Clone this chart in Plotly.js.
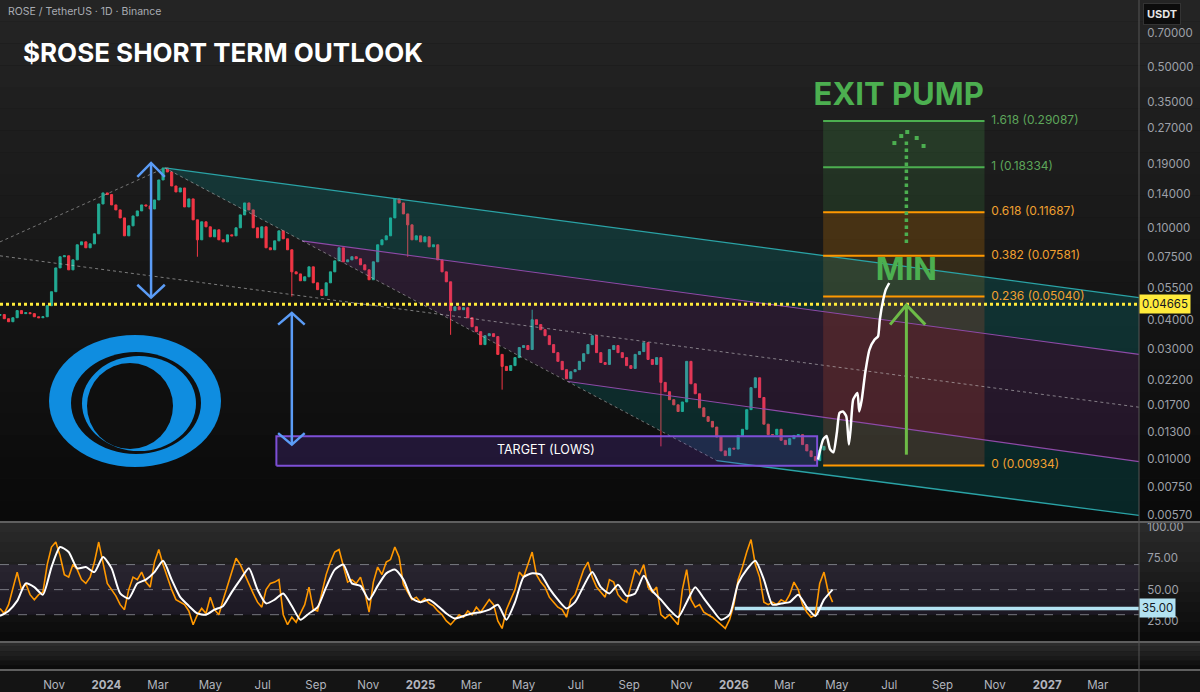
<!DOCTYPE html>
<html><head><meta charset="utf-8">
<script src="https://cdn.plot.ly/plotly-3.0.1.min.js"></script>
<style>html,body{margin:0;padding:0;background:#141414;}#chart{width:1200px;height:692px;}</style>
</head><body><div id="chart"></div>
<script>
// ================= DATA =================
// Price (ROSE/USDT), one candle every 5 days, open = previous close
const candleStart = '2023-08-30';
const candleStepDays = 5;
const firstOpen = 0.0418;
const closes = [
0.0421,0.0404,0.0392,0.0408,0.0438,0.0425,0.0429,0.0425,0.0412,0.0408,
0.0412,0.0460,0.0529,0.0671,0.0750,0.0757,0.0658,0.0727,0.0845,0.0870,
0.0820,0.0853,0.0943,0.1270,0.1418,0.1395,0.1258,0.1197,0.1105,0.0924,
0.1021,0.1127,0.1185,0.1258,0.1245,0.1208,0.1322,0.1614,0.1819,0.1748,
0.1520,0.1432,0.1490,0.1233,0.1336,0.1084,0.0888,0.1063,0.1011,0.0915,
0.0981,0.0888,0.0870,0.0933,0.0924,0.1001,0.1139,0.1283,0.1197,0.1001,
0.0906,0.1011,0.0820,0.0804,0.0879,0.0971,0.0897,0.0804,0.0645,0.0632,
0.0590,0.0614,0.0678,0.0578,0.0540,0.0509,0.0578,0.0645,0.0720,0.0820,
0.0713,0.0727,0.0750,0.0735,0.0692,0.0658,0.0596,0.0713,0.0845,0.0888,
0.0924,0.1105,0.1336,0.1283,0.1150,0.1031,0.0888,0.0924,0.0870,0.0915,
0.0828,0.0845,0.0727,0.0645,0.0584,0.0438,0.0455,0.0442,0.0451,0.0408,
0.0373,0.0355,0.0312,0.0341,0.0348,0.0338,0.0283,0.0251,0.0241,0.0253,
0.0274,0.0303,0.0309,0.0297,0.0400,0.0381,0.0362,0.0341,0.0312,0.0288,
0.0264,0.0243,0.0222,0.0238,0.0243,0.0264,0.0285,0.0312,0.0341,0.0288,
0.0261,0.0256,0.0297,0.0309,0.0288,0.0274,0.0253,0.0246,0.0283,0.0291,
0.0318,0.0269,0.0256,0.0274,0.0214,0.0195,0.0180,0.0171,0.0160,0.0176,
0.0264,0.0211,0.0191,0.0166,0.0152,0.0145,0.0137,0.0124,0.0108,0.0103,
0.0111,0.0110,0.0126,0.0134,0.0163,0.0203,0.0224,0.0184,0.0141,0.0127,
0.0127,0.0134,0.0120,0.0115,0.0122,0.0126,0.0127,0.0115,0.0108,0.0102,
0.0098,0.0109,0.0113];
const wickLowIndex  = [46, 68, 95, 105, 117, 154];
const wickLowValue  = [0.0750, 0.0504, 0.0750, 0.0344, 0.0199, 0.0113];
const wickHighIndex = [124];
const wickHighValue = [0.0442];

// RSI (5-day grid) and its moving average (10-day grid)
const rsiStepDays = 5;
const rsiValues = [
35,31,38,52,64,50,55,46,42,46, 48,70,84,88,77,62,60,70,66,58,
55,60,72,88,70,55,50,45,38,34, 50,60,58,64,56,52,72,82,70,60,
50,42,40,38,33,22,30,35,31,44, 34,30,42,53,64,75,70,62,55,47,
40,36,50,55,56,58,30,22,28,24, 31,38,52,34,33,48,62,72,80,82,
70,56,58,55,60,48,32,56,68,62, 72,74,84,76,54,48,42,44,40,43,
39,37,33,30,25,22,26,30,28,33, 30,36,32,37,42,38,25,19,34,42,
50,64,60,70,80,62,56,52,44,40, 36,34,28,42,46,56,66,72,60,52,
48,44,58,56,46,42,40,54,66,62, 70,52,48,52,30,27,30,26,22,50,
66,42,36,38,32,30,28,25,22,19, 26,38,58,68,80,90,70,60,40,38,
40,38,42,40,46,56,50,38,32,28, 30,55,64,48,40];
const rsiMaStepDays = 10;
const rsiMa = [
29,33,41,55,52,46,68,84,80,67, 68,64,76,67,47,43,55,58,64,73,
58,44,37,31,30,34,37,48,58,67, 50,39,42,47,37,26,31,36,52,66,
70,55,53,42,53,63,66,58,43,40, 42,37,31,27,29,31,32,34,38,26,
40,60,63,62,51,42,35,40,53,64, 52,47,54,45,47,61,49,42,34,28,
40,52,43,34,26,30,55,66,73,58, 38,39,40,46,36,29,42,50];
const rsiGuideLevels = [70, 50, 30];
const rsiAlertLevel = 35;
const rsiAlertStart = '2026-01-02';

// Axes
const xStart = '2023-08-30', xEnd = '2027-04-18';
const priceTicks = [0.7,0.5,0.35,0.27,0.19,0.14,0.1,0.075,0.055,0.04,0.03,0.022,0.017,0.013,0.01,0.0075,0.0057];
const rsiTicks = [25, 50, 75, 100];
const monthTickDates = ['2023-09-01','2023-11-01','2024-01-01','2024-03-01','2024-05-01','2024-07-01','2024-09-01','2024-11-01',
 '2025-01-01','2025-03-01','2025-05-01','2025-07-01','2025-09-01','2025-11-01','2026-01-01','2026-03-01','2026-05-01',
 '2026-07-01','2026-09-01','2026-11-01','2027-01-01','2027-03-01'];
const monthTickLabels = ['Sep','Nov','2024','Mar','May','Jul','Sep','Nov','2025','Mar','May','Jul','Sep','Nov','2026','Mar','May','Jul','Sep','Nov','2027','Mar'];

// Horizontal price line
const lastPriceLevel = 0.04665;

// Pitchfork drawing
const pfUpperX  = ['2024-03-09','2027-04-18'], pfUpperY  = [0.182, 0.0499];
const pfMidUpX  = ['2024-08-16','2027-04-18'], pfMidUpY  = [0.0879, 0.0283];
const pfMedianX = ['2023-08-30','2027-04-18'], pfMedianY = [0.0757, 0.0167];
const pfMidLowX = ['2025-06-22','2027-04-18'], pfMidLowY = [0.0216, 0.0097];
const pfLowerX  = ['2025-12-12','2027-04-18'], pfLowerY  = [0.0098, 0.00567];
const pfHandleX = ['2023-08-30','2024-03-09','2025-12-12'], pfHandleY = [0.0870, 0.182, 0.0098];

// Target box
const targetX = ['2024-07-17','2026-04-08'], targetY = [0.0093, 0.0125];
const targetLabelX = '2025-05-27', targetLabelY = 0.01082, targetLabel = 'TARGET (LOWS)';

// Fibonacci extension
const fibLevels = ['1.618','1','0.618','0.382','0.236','0'];
const fibPrices = [0.29087, 0.18334, 0.11687, 0.07581, 0.05040, 0.00934];
const fibStart = '2026-04-15', fibEnd = '2026-10-20', fibLabelX = '2026-10-28';

// Arrows
const blueArrow1X = ['2024-02-22','2024-02-22'], blueArrow1Y = [0.1912, 0.0499];
const blueHead1X = ['2024-02-06','2024-02-22','2024-03-09'], blueHead1TopY = [0.1663,0.1912,0.1663], blueHead1BotY = [0.0567,0.0499,0.0567];
const blueArrow2X = ['2024-08-04','2024-08-04'], blueArrow2Y = [0.0428, 0.0115];
const blueHead2X = ['2024-07-19','2024-08-04','2024-08-19'], blueHead2TopY = [0.0381,0.0428,0.0381], blueHead2BotY = [0.0129,0.0115,0.0129];
const greenArrowX = ['2026-07-21','2026-07-21'], greenArrowY = [0.0104, 0.0463];
const greenHeadX = ['2026-07-02','2026-07-21','2026-08-12'], greenHeadY = [0.0381, 0.0463, 0.0381];
const dotArrowX = ['2026-07-21','2026-07-21'], dotArrowY = [0.0860, 0.245];
const dotHeadX = ['2026-07-07','2026-07-15','2026-07-22','2026-08-02','2026-08-10'], dotHeadY = [0.2333,0.2502,0.2604,0.2453,0.2265];

// Hand-drawn projection
const projX = ['2026-04-09','2026-04-15','2026-04-19','2026-04-23','2026-04-27','2026-05-01','2026-05-04','2026-05-08','2026-05-12','2026-05-15','2026-05-17','2026-05-20','2026-05-25','2026-05-27','2026-05-30','2026-06-03','2026-06-08','2026-06-14','2026-06-18','2026-06-20','2026-06-24','2026-06-27','2026-07-01'];
const projY = [0.0099,0.0121,0.01253,0.0110,0.01064,0.01297,0.01577,0.01602,0.01525,0.0115,0.0134,0.0180,0.01926,0.01602,0.0180,0.02351,0.0297,0.0328,0.03386,0.0400,0.0488,0.0540,0.0577];

// Big labels
const exitLabelX = '2026-07-12', exitLabelY = 0.3675;
const minLabelX = '2026-07-21', minLabelY = 0.0640;

// ================= BUILD =================
function addDays(s, n){const d=new Date(s+'T00:00:00Z');d.setUTCDate(d.getUTCDate()+n);return d.toISOString().slice(0,10);}
const candleDates = closes.map((_,i)=>addDays(candleStart, i*candleStepDays));
const opens = closes.map((c,i)=> i===0 ? firstOpen : closes[i-1]);
const highs = closes.map((c,i)=> Math.max(c, opens[i]));
const lows  = closes.map((c,i)=> Math.min(c, opens[i]));
wickLowIndex.forEach((k,j)=>{lows[k]=wickLowValue[j];});
wickHighIndex.forEach((k,j)=>{highs[k]=wickHighValue[j];});
const rsiDates = rsiValues.map((_,i)=>addDays(candleStart, i*rsiStepDays));
const maDates = rsiMa.map((_,i)=>addDays(candleStart, i*rsiMaStepDays));

const W=1200,H=692,PR=1139,PB=670;
const px = v=>v/PR, py = v=>1-v/PB;

const FONT = 'Inter, Roboto, "Liberation Sans", sans-serif';
const traces = [];
function poly(x,y,fill,extra){traces.push(Object.assign({type:'scatter',mode:'lines',x:x,y:y,fill:'toself',fillcolor:fill,line:{width:0},hoverinfo:'skip',xaxis:'x',yaxis:'y'},extra||{}));}
function line(x,y,color,width,dash,yaxis,extra){traces.push(Object.assign({type:'scatter',mode:'lines',x:x,y:y,line:{color:color,width:width,dash:dash||'solid'},hoverinfo:'skip',xaxis:'x',yaxis:yaxis||'y'},extra||{}));}

// Pitchfork fills
poly([pfUpperX[0],pfUpperX[1],pfMidUpX[1],pfMidUpX[0],pfUpperX[0]],[pfUpperY[0],pfUpperY[1],pfMidUpY[1],pfMidUpY[0],pfUpperY[0]],'rgba(0,165,165,0.20)');
poly([pfMidUpX[0],pfMidUpX[1],pfMidLowX[1],pfMidLowX[0],pfMidUpX[0]],[pfMidUpY[0],pfMidUpY[1],pfMidLowY[1],pfMidLowY[0],pfMidUpY[0]],'rgba(150,60,180,0.16)');
poly([pfMidLowX[0],pfMidLowX[1],pfLowerX[1],pfLowerX[0],pfMidLowX[0]],[pfMidLowY[0],pfMidLowY[1],pfLowerY[1],pfLowerY[0],pfMidLowY[0]],'rgba(0,165,165,0.18)');

// Fib bands
const fibBandColors = ['rgba(76,175,80,0.20)','rgba(76,175,80,0.16)','rgba(255,152,0,0.20)','rgba(200,150,40,0.17)','rgba(235,90,50,0.19)'];
for(let i=0;i<fibPrices.length-1;i++){
  poly([fibStart,fibEnd,fibEnd,fibStart,fibStart],[fibPrices[i],fibPrices[i],fibPrices[i+1],fibPrices[i+1],fibPrices[i]],fibBandColors[i]);
}

// Pitchfork lines
line(pfUpperX,pfUpperY,'#2aa3a6',1.3);
line(pfMidUpX,pfMidUpY,'#8e4aa8',1.1);
line(pfMedianX,pfMedianY,'rgba(210,210,210,0.55)',1,'dot');
line(pfMidLowX,pfMidLowY,'#8e4aa8',1.1);
line(pfLowerX,pfLowerY,'#2aa3a6',1.3);
line(pfHandleX,pfHandleY,'rgba(210,210,210,0.5)',1,'dot');

// Target box
poly([targetX[0],targetX[1],targetX[1],targetX[0],targetX[0]],[targetY[0],targetY[0],targetY[1],targetY[1],targetY[0]],'rgba(110,60,200,0.22)',{line:{color:'#7d4fd6',width:2}});

// Candles
traces.push({type:'candlestick',x:candleDates,open:opens,high:highs,low:lows,close:closes,xaxis:'x',yaxis:'y',
  increasing:{line:{color:'#22ab94',width:1},fillcolor:'#22ab94'},
  decreasing:{line:{color:'#f23645',width:1},fillcolor:'#f23645'},
  whiskerwidth:0,hoverinfo:'skip'});

// Yellow price line
line([xStart,xEnd],[lastPriceLevel,lastPriceLevel],'#ffeb3b',3,'dot');

// Fib lines and labels
const fibColors = ['#4caf50','#4caf50','#ff9800','#ff9800','#ff9800','#ff9800'];
const fibTextColors = ['#5da55a','#5da55a','#f0a030','#f0a030','#f0a030','#f0a030'];
fibPrices.forEach((p,i)=>{ line([fibStart,fibEnd],[p,p],fibColors[i],2); });
traces.push({type:'scatter',mode:'text',x:fibPrices.map(()=>fibLabelX),y:fibPrices,
  text:fibLevels.map((l,i)=>l+' ('+fibPrices[i].toFixed(5)+')'),textposition:'middle right',
  textfont:{family:FONT,size:12,color:fibTextColors},cliponaxis:false,hoverinfo:'skip',xaxis:'x',yaxis:'y'});

// Projection
line(projX,projY,'#ffffff',2.5,'solid','y',{line:{color:'#ffffff',width:2.5,shape:'spline',smoothing:0.5}});

// Arrows
const ab='#5b9cf6';
line(blueArrow1X,blueArrow1Y,ab,2.5); line(blueHead1X,blueHead1TopY,ab,2.5); line(blueHead1X,blueHead1BotY,ab,2.5);
line(blueArrow2X,blueArrow2Y,ab,2.5); line(blueHead2X,blueHead2TopY,ab,2.5); line(blueHead2X,blueHead2BotY,ab,2.5);
line(greenArrowX,greenArrowY,'#6dbb47',3); line(greenHeadX,greenHeadY,'#6dbb47',3);
line(dotArrowX,dotArrowY,'#4caf50',3.5,'dot');
traces.push({type:'scatter',mode:'markers',x:dotHeadX,y:dotHeadY,marker:{symbol:'square',size:4,color:'#4caf50'},hoverinfo:'skip',xaxis:'x',yaxis:'y'});

// Text labels
traces.push({type:'scatter',mode:'text',x:[exitLabelX,minLabelX],y:[exitLabelY,minLabelY],text:['<b>EXIT PUMP</b>','<b>MIN</b>'],
  textposition:'middle center',textfont:{family:FONT,size:31,color:'#4caf50'},cliponaxis:false,hoverinfo:'skip',xaxis:'x',yaxis:'y'});
traces.push({type:'scatter',mode:'text',x:[targetLabelX],y:[targetLabelY],text:[targetLabel],textposition:'middle center',
  textfont:{family:FONT,size:12.5,color:'#ffffff'},hoverinfo:'skip',xaxis:'x',yaxis:'y'});

// RSI pane
const rsiEnd = xEnd;
traces.push({type:'scatter',mode:'lines',x:[xStart,rsiEnd,rsiEnd,xStart,xStart],y:[30,30,70,70,30],fill:'toself',fillcolor:'rgba(126,87,194,0.10)',line:{width:0},hoverinfo:'skip',xaxis:'x',yaxis:'y2'});
rsiGuideLevels.forEach(l=>line([xStart,rsiEnd],[l,l],'rgba(150,152,160,0.75)',1,'dash','y2'));
line([rsiAlertStart,rsiEnd],[rsiAlertLevel,rsiAlertLevel],'#b3e2f2',3.5,'solid','y2');
line(rsiDates,rsiValues,'#ff9800',1.6,'solid','y2');
line(maDates,rsiMa,'#ffffff',2,'solid','y2',{line:{color:'#ffffff',width:2,shape:'spline',smoothing:0.6}});

// ---------- Shapes (background, separators, logo) ----------
const shapes=[];
function grad(t,b,c0,c1,n){for(let i=0;i<n;i++){const f=i/(n-1);const c=c0.map((v,k)=>Math.round(v+(c1[k]-v)*f));
  shapes.push({type:'rect',xref:'paper',yref:'paper',x0:0,x1:W/PR,y0:py(t+(b-t)*(i+1)/n),y1:py(t+(b-t)*i/n),fillcolor:'rgb('+c.join(',')+')',line:{width:0},layer:'below'});}}
grad(0,522,[36,36,36],[10,10,10],24);
grad(522,642,[42,42,42],[11,11,11],12);
grad(642,670,[44,44,44],[12,12,12],6);
[522,642,670].forEach(y=>shapes.push({type:'line',xref:'paper',yref:'paper',x0:0,x1:W/PR,y0:py(y),y1:py(y),line:{color:'#5f5f5f',width:2},layer:'above'}));
shapes.push({type:'line',xref:'paper',yref:'paper',x0:1,x1:1,y0:py(692),y1:1,line:{color:'#555555',width:1},layer:'above'});
// logo
const ell=(l,t,r,b,c)=>shapes.push({type:'circle',xref:'paper',yref:'paper',x0:px(l),x1:px(r),y0:py(b),y1:py(t),fillcolor:c,line:{width:0},layer:'above'});
ell(49,335,221,467,'#0f8de0');
ell(71,352,201,454,'#0f0f0f');
ell(82,356,196,451,'#0f8de0');
ell(87,363,173,449,'#0f0f0f');

const ann=[];
ann.push({xref:'paper',yref:'paper',x:px(6),y:py(11),xanchor:'left',yanchor:'middle',showarrow:false,text:'ROSE / TetherUS · 1D · Binance',font:{family:FONT,size:10.5,color:'#a9acb3'}});
ann.push({xref:'paper',yref:'paper',x:px(21),y:py(52),xanchor:'left',yanchor:'middle',showarrow:false,text:'<b>$ROSE SHORT TERM OUTLOOK</b>',font:{family:FONT,size:26,color:'#ffffff'}});
ann.push({xref:'paper',yref:'paper',x:px(1143),y:py(3),xanchor:'left',yanchor:'top',showarrow:false,text:'<b>USDT</b>',font:{family:FONT,size:11,color:'#e6e6e6'},bgcolor:'#0c0c0c',bordercolor:'#333333',borderwidth:1,borderpad:3});
ann.push({xref:'paper',yref:'y',x:1,y:Math.log10(lastPriceLevel),xanchor:'left',yanchor:'middle',showarrow:false,text:lastPriceLevel.toFixed(5),font:{family:FONT,size:11.5,color:'#131722'},bgcolor:'#ffeb3b',borderpad:2});
ann.push({xref:'paper',yref:'y2',x:1,y:rsiAlertLevel,xanchor:'left',yanchor:'middle',showarrow:false,text:rsiAlertLevel.toFixed(2),font:{family:FONT,size:11.5,color:'#131722'},bgcolor:'#b3e2f2',borderpad:2});

const layout={
  width:W,height:H,margin:{l:0,r:W-PR,t:0,b:H-PB},
  paper_bgcolor:'#141414',plot_bgcolor:'rgba(0,0,0,0)',showlegend:false,
  font:{family:FONT,color:'#a5a8b0'},
  xaxis:{type:'date',range:[xStart,xEnd],anchor:'free',position:0,showgrid:false,zeroline:false,showline:false,ticks:'outside',ticklen:4,tickcolor:'rgba(0,0,0,0)',
    tickvals:monthTickDates,ticktext:monthTickLabels.map(t=>/^\d{4}$/.test(t)?'<b>'+t+'</b>':t),
    tickfont:{family:FONT,size:11.5,color:'#b2b5be'},rangeslider:{visible:false},fixedrange:true},
  yaxis:{type:'log',domain:[1-521/PB,1],range:[-2.2705,-0.0120],side:'right',anchor:'x',showgrid:false,zeroline:false,showline:false,
    ticks:'outside',ticklen:5,tickcolor:'rgba(0,0,0,0)',tickvals:priceTicks,ticktext:priceTicks.map(v=>v.toFixed(5)),tickfont:{family:FONT,size:11.5,color:'#9ea1a9'}},
  yaxis2:{domain:[1-641/PB,1-523/PB],range:[9,103.2],side:'right',anchor:'x',showgrid:false,zeroline:false,showline:false,
    ticks:'outside',ticklen:5,tickcolor:'rgba(0,0,0,0)',tickvals:rsiTicks,ticktext:rsiTicks.map(v=>v.toFixed(2)),tickfont:{family:FONT,size:11.5,color:'#9ea1a9'}},
  shapes:shapes,annotations:ann
};
Plotly.newPlot('chart',traces,layout,{staticPlot:true,displayModeBar:false});
</script></body></html>
